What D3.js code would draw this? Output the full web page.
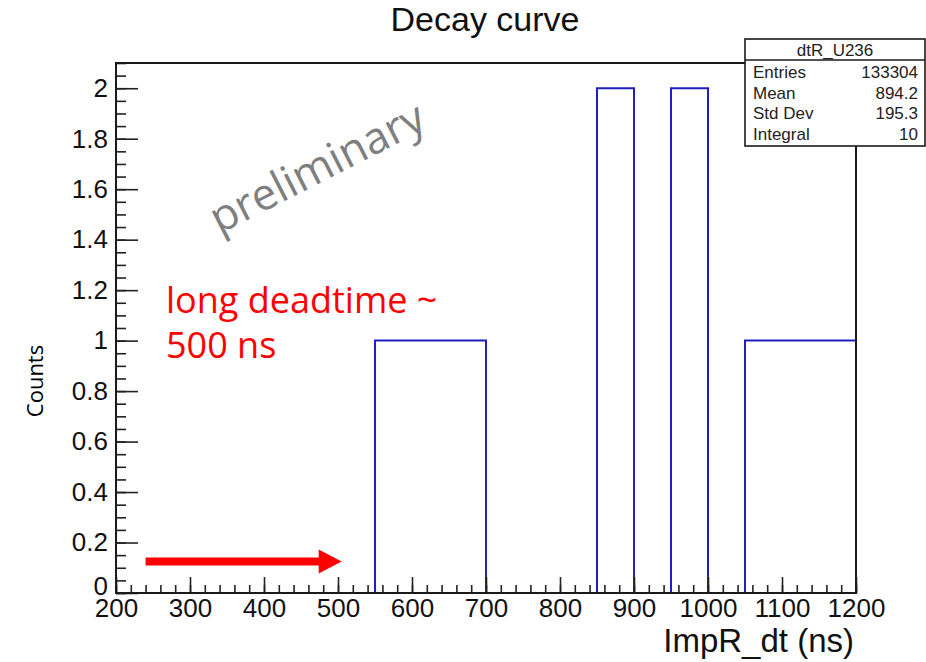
<!DOCTYPE html>
<html>
<head>
<meta charset="utf-8">
<script src="https://cdn.jsdelivr.net/npm/d3@7"></script>
<style>
  body { margin: 0; background: #fff; }
  text { font-family: "Liberation Sans", Arial, sans-serif; }
</style>
</head>
<body>
<div id="chart"></div>
<script>
// Histogram data: lower bin edges (50 ns bins) and counts
const binLow = [200, 250, 300, 350, 400, 450, 500, 550, 600, 650,
                700, 750, 800, 850, 900, 950, 1000, 1050, 1100, 1150];
const binCounts = [0, 0, 0, 0, 0, 0, 0, 1, 1, 1,
                   0, 0, 0, 2, 0, 2, 0, 1, 1, 1];
const xTicks = [200, 300, 400, 500, 600, 700, 800, 900, 1000, 1100, 1200];
const yTicks = [0, 0.2, 0.4, 0.6, 0.8, 1, 1.2, 1.4, 1.6, 1.8, 2];
const statLabels = ['Entries', 'Mean', 'Std Dev', 'Integral'];
const statValues = ['133304', '894.2', '195.3', '10'];

// Size and margins
const width = 926, height = 662;
const margin = {top: 63, left: 116, right: 70, bottom: 69};
const plotW = width - margin.left - margin.right;
const plotH = height - margin.top - margin.bottom;

const svg = d3.select('#chart').append('svg')
  .attr('width', width)
  .attr('height', height);

// Scales
const x = d3.scaleLinear().domain([200, 1200]).range([margin.left, margin.left + plotW]);
const y = d3.scaleLinear().domain([0, 2.1]).range([margin.top + plotH, margin.top]);

// Title
svg.append('text')
  .attr('x', 485).attr('y', 31)
  .attr('text-anchor', 'middle')
  .attr('font-size', '34px')
  .attr('fill', '#111')
  .text('Decay curve');

// Histogram outline
const pts = binLow.map((lo, i) => [lo, binCounts[i]]).concat([[1200, 0]]);
const line = d3.line()
  .x(d => x(d[0]))
  .y(d => y(d[1]))
  .curve(d3.curveStepAfter);

svg.append('path')
  .datum(pts)
  .attr('d', line)
  .attr('fill', 'none')
  .attr('stroke', '#1f1fbf')
  .attr('stroke-width', 2);

// Minor ticks
const xMinor = d3.axisBottom(x).tickValues(d3.range(200, 1201, 20))
  .tickSizeInner(-8).tickSizeOuter(0).tickFormat('');
const yMinor = d3.axisLeft(y).tickValues(d3.range(0, 2.11, 0.05))
  .tickSizeInner(-10).tickSizeOuter(0).tickFormat('');

svg.append('g').attr('class', 'minor')
  .attr('transform', `translate(0, ${margin.top + plotH})`).call(xMinor);
svg.append('g').attr('class', 'minor')
  .attr('transform', `translate(${margin.left}, 0)`).call(yMinor);

// Major ticks + labels
const xAxis = d3.axisBottom(x).tickValues(xTicks)
  .tickSizeInner(-16).tickSizeOuter(0).tickPadding(6)
  .tickFormat(d3.format('d'));
const yAxis = d3.axisLeft(y).tickValues(yTicks)
  .tickSizeInner(-22).tickSizeOuter(0).tickPadding(8)
  .tickFormat(d => d3.format('~g')(d));

svg.append('g').attr('class', 'major')
  .attr('transform', `translate(0, ${margin.top + plotH})`).call(xAxis);
const yG = svg.append('g').attr('class', 'major')
  .attr('transform', `translate(${margin.left}, 0)`).call(yAxis);

svg.selectAll('.domain').remove();
svg.selectAll('.tick line').attr('stroke', '#222').attr('stroke-width', 1.6);
svg.selectAll('.major text')
  .attr('font-size', '26px')
  .attr('fill', '#111')
  .attr('font-family', '"Liberation Sans", Arial, sans-serif');

// ROOT puts the "0" a bit higher, just above the x labels
yG.selectAll('.tick text').filter(d => d === 0)
  .attr('dy', '0.05em');

// Frame
svg.append('rect')
  .attr('x', margin.left).attr('y', margin.top)
  .attr('width', plotW).attr('height', plotH)
  .attr('fill', 'none')
  .attr('stroke', '#1a1a1a')
  .attr('stroke-width', 2);

// Axis titles
svg.append('text')
  .attr('x', margin.left + plotW - 2).attr('y', 652)
  .attr('text-anchor', 'end')
  .attr('font-size', '33px')
  .attr('fill', '#111')
  .text('ImpR_dt (ns)');

svg.append('text')
  .attr('transform', 'translate(43, 381) rotate(-90)')
  .attr('text-anchor', 'middle')
  .attr('font-size', '22px')
  .style('font-family', '"Open Sans", sans-serif')
  .attr('fill', '#000')
  .text('Counts');

// Stats box
const box = svg.append('g').attr('transform', 'translate(745, 39)');
box.append('rect')
  .attr('width', 180).attr('height', 107)
  .attr('fill', '#fff')
  .attr('stroke', '#1a1a1a')
  .attr('stroke-width', 1.6);
box.append('line')
  .attr('x1', 0).attr('x2', 180).attr('y1', 21).attr('y2', 21)
  .attr('stroke', '#1a1a1a').attr('stroke-width', 1.6);
box.append('text')
  .attr('x', 90).attr('y', 17)
  .attr('text-anchor', 'middle')
  .attr('font-size', '17px')
  .attr('fill', '#222')
  .text('dtR_U236');
statLabels.forEach((s, i) => {
  box.append('text')
    .attr('x', 8).attr('y', 39 + i * 20.5)
    .attr('font-size', '17px').attr('fill', '#222')
    .text(s);
  box.append('text')
    .attr('x', 173).attr('y', 39 + i * 20.5)
    .attr('text-anchor', 'end')
    .attr('font-size', '17px').attr('fill', '#222')
    .text(statValues[i]);
});

// Annotations
svg.append('text')
  .attr('transform', 'translate(324, 181) rotate(-27)')
  .attr('text-anchor', 'middle')
  .attr('font-size', '44px')
  .style('font-family', '"Open Sans", sans-serif')
  .attr('fill', '#7f7f7f')
  .text('preliminary');

const note = svg.append('text')
  .attr('font-size', '36px')
  .style('font-family', '"Open Sans", sans-serif')
  .attr('fill', '#ff0000');
note.append('tspan').attr('x', 166).attr('y', 313).text('long deadtime ~');
note.append('tspan').attr('x', 166).attr('y', 358).text('500 ns');

// Red arrow (in data units)
const ay = y(0.125);
const ax0 = x(240), ax1 = x(505), headLen = 23;
svg.append('path')
  .attr('d', `M${ax0},${ay - 4}L${ax1 - headLen},${ay - 4}L${ax1 - headLen},${ay - 12}` +
             `L${ax1},${ay}L${ax1 - headLen},${ay + 12}L${ax1 - headLen},${ay + 4}L${ax0},${ay + 4}Z`)
  .attr('fill', '#ff0000');
</script>
</body>
</html>
